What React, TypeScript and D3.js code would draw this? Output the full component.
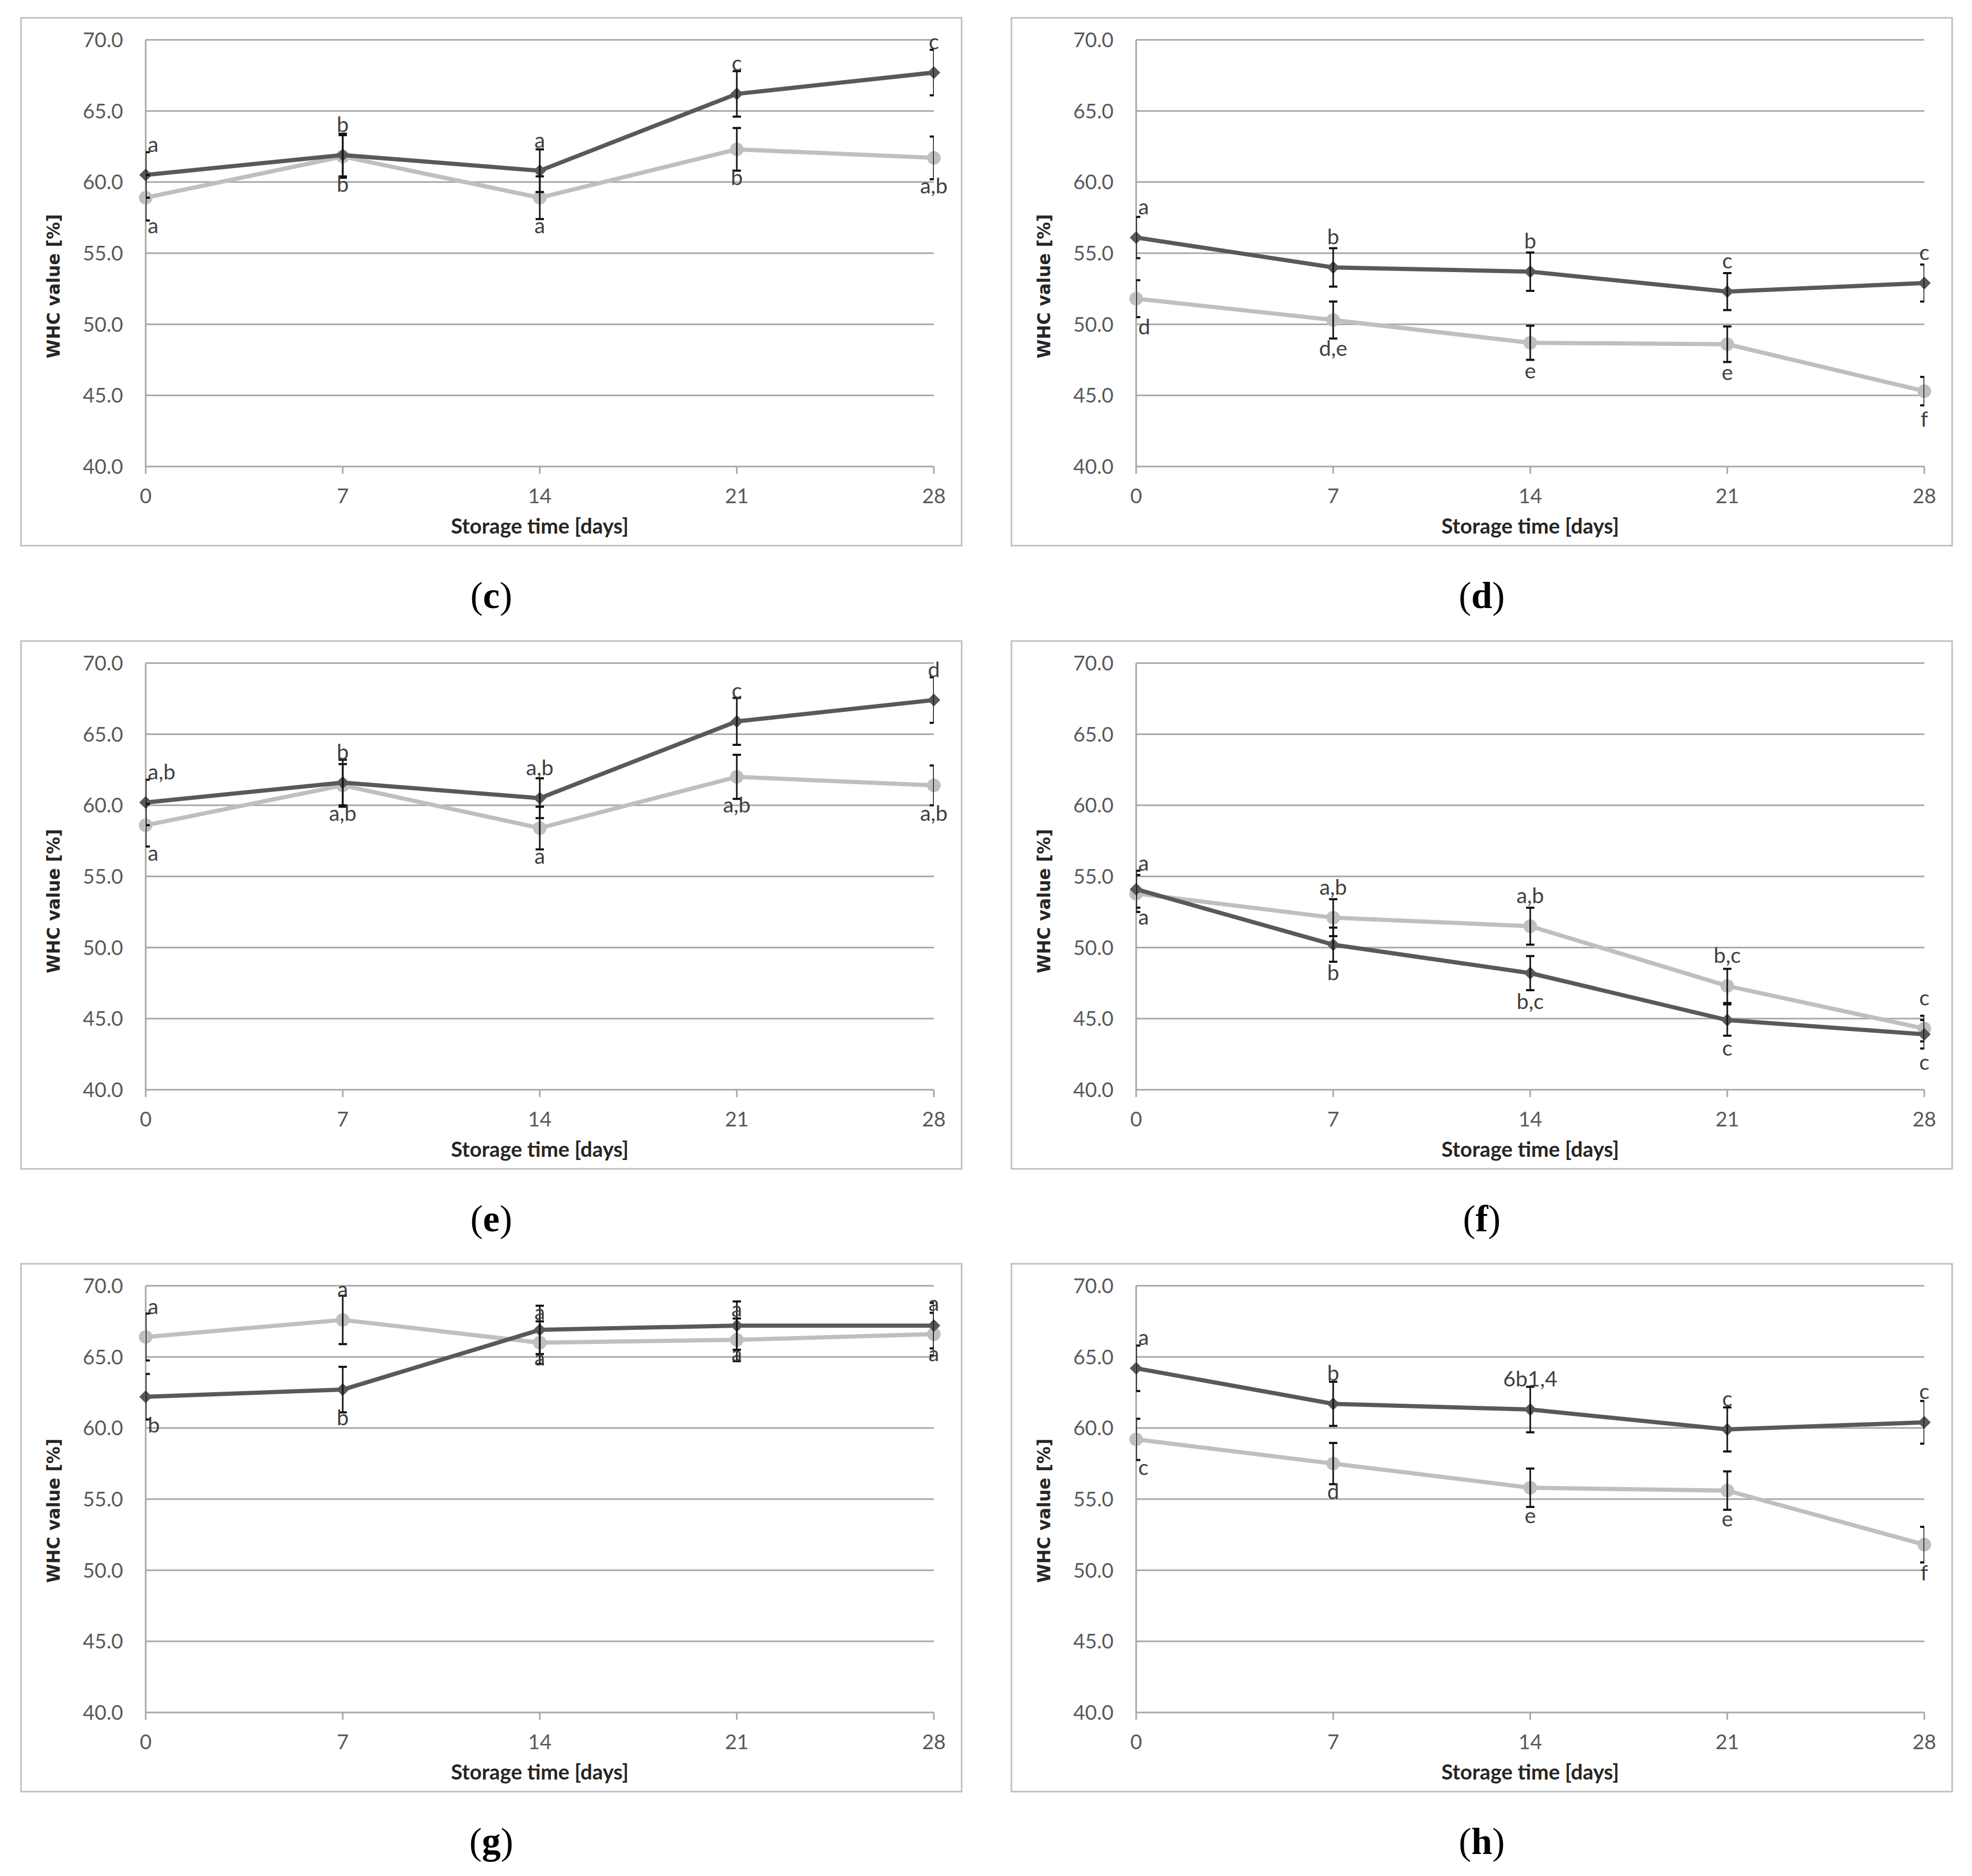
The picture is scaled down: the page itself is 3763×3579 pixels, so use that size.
import React from "react";
import * as d3 from "d3";

// ---- data ----
const days = [0, 7, 14, 21, 28];
const yTicks = [40, 45, 50, 55, 60, 65, 70];
const panelLetters = ["c", "d", "e", "f", "g", "h"];
const xTitle = "Storage time [days]";
const yTitle = "WHC value [%]";

const cDark = [60.5, 61.9, 60.8, 66.2, 67.7];
const cDarkErr = [1.6, 1.5, 1.5, 1.6, 1.6];
const cLight = [58.9, 61.8, 58.9, 62.3, 61.7];
const cLightErr = [1.6, 1.5, 1.5, 1.5, 1.5];
const cDarkLabels = ["a", "b", "a", "c", "c"];
const cLightLabels = ["a", "b", "a", "b", "a,b"];

const dDark = [56.1, 54.0, 53.7, 52.3, 52.9];
const dDarkErr = [1.45, 1.35, 1.35, 1.3, 1.3];
const dLight = [51.8, 50.3, 48.7, 48.6, 45.3];
const dLightErr = [1.3, 1.3, 1.2, 1.25, 1.0];
const dDarkLabels = ["a", "b", "b", "c", "c"];
const dLightLabels = ["d", "d,e", "e", "e", "f"];

const eDark = [60.2, 61.6, 60.5, 65.9, 67.4];
const eDarkErr = [1.6, 1.6, 1.4, 1.65, 1.6];
const eLight = [58.6, 61.4, 58.4, 62.0, 61.4];
const eLightErr = [1.5, 1.5, 1.5, 1.55, 1.4];
const eDarkLabels = ["a,b", "b", "a,b", "c", "d"];
const eLightLabels = ["a", "a,b", "a", "a,b", "a,b"];

const fDark = [54.1, 50.2, 48.2, 44.9, 43.9];
const fDarkErr = [1.3, 1.2, 1.2, 1.1, 1.0];
const fLight = [53.8, 52.1, 51.5, 47.3, 44.3];
const fLightErr = [1.3, 1.3, 1.3, 1.2, 0.9];
const fDarkLabels = ["a", "b", "b,c", "c", "c"];
const fLightLabels = ["a", "a,b", "a,b", "b,c", "c"];

const gDark = [62.2, 62.7, 66.9, 67.2, 67.2];
const gDarkErr = [1.6, 1.6, 1.7, 1.7, 1.6];
const gLight = [66.4, 67.6, 66.0, 66.2, 66.6];
const gLightErr = [1.65, 1.7, 1.5, 1.5, 1.5];
const gDarkLabels = ["b", "b", "a", "a", "a"];
const gLightLabels = ["a", "a", "a", "a", "a"];

const hDark = [64.2, 61.7, 61.3, 59.9, 60.4];
const hDarkErr = [1.6, 1.55, 1.6, 1.55, 1.5];
const hLight = [59.2, 57.5, 55.8, 55.6, 51.8];
const hLightErr = [1.45, 1.45, 1.35, 1.35, 1.25];
const hDarkLabels = ["a", "b", "6b1,4", "c", "c"];
const hLightLabels = ["c", "d", "e", "e", "f"];

// which series has its letters above the points (per panel)
const lightLabelsAbove = [false, false, false, true, true, false];

const darkSeries = [cDark, dDark, eDark, fDark, gDark, hDark];
const darkErrs = [cDarkErr, dDarkErr, eDarkErr, fDarkErr, gDarkErr, hDarkErr];
const lightSeries = [cLight, dLight, eLight, fLight, gLight, hLight];
const lightErrs = [cLightErr, dLightErr, eLightErr, fLightErr, gLightErr, hLightErr];
const darkLabelSets = [cDarkLabels, dDarkLabels, eDarkLabels, fDarkLabels, gDarkLabels, hDarkLabels];
const lightLabelSets = [cLightLabels, dLightLabels, eLightLabels, fLightLabels, gLightLabels, hLightLabels];

// ---- style ----
const DARK = "#595959";
const LIGHT = "#bfbfbf";
const GRID = "#a6a6a6";
const SANS = "Lato, 'Open Sans', sans-serif";
const colX = [40, 1930];
const rowY = [34, 1223, 2411];
const yTitleMid = [512, 496, 471];

type PanelProps = {
  idx: number;
};

function Panel({ idx }: PanelProps) {
  const col = idx % 2;
  const row = Math.floor(idx / 2);
  const ox = colX[col];
  const oy = rowY[row];
  const bw = 1795;
  const bh = 1007;
  const dark = darkSeries[idx];
  const light = lightSeries[idx];
  const dErr = darkErrs[idx];
  const lErr = lightErrs[idx];
  const lightAbove = lightLabelsAbove[idx];

  const x = d3.scaleLinear().domain([0, 28]).range([ox + 238, ox + 1742]);
  const y = d3.scaleLinear().domain([40, 70]).range([oy + 856, oy + 42]);
  const line = d3
    .line<number>()
    .x((_, i) => x(days[i]))
    .y((v) => y(v));
  const circle = d3.symbol(d3.symbolCircle, Math.PI * 13 * 13)();
  const diamond = d3.symbol(d3.symbolSquare, 300)();
  const clipId = `clip-${idx}`;
  const fmt = d3.format(".1f");

  const errBars = (vals: number[], errs: number[], key: string) =>
    vals.map((v, i) => {
      const cx = x(days[i]);
      const t = y(v + errs[i]);
      const b = y(v - errs[i]);
      return (
        <g key={`${key}${i}`}>
          <line x1={cx} x2={cx} y1={t} y2={b} stroke="#111" strokeWidth={3} />
          <line x1={cx - 8} x2={cx + 8} y1={t} y2={t} stroke="#111" strokeWidth={4} />
          <line x1={cx - 8} x2={cx + 8} y1={b} y2={b} stroke="#111" strokeWidth={4} />
        </g>
      );
    });

  const labels = (vals: number[], texts: string[], above: boolean, key: string) =>
    vals.map((v, i) => {
      const first = i === 0;
      return (
        <text
          key={`${key}${i}`}
          x={first ? x(days[i]) + 4 : x(days[i])}
          y={above ? y(v) - 44 : y(v) + 68}
          textAnchor={first ? "start" : "middle"}
          fontFamily={SANS}
          fontSize={41}
          fill="#404040"
        >
          {texts[i]}
        </text>
      );
    });

  return (
    <g>
      <defs>
        <clipPath id={clipId}>
          <rect x={x(0)} y={oy} width={x(28) - x(0)} height={bh} />
        </clipPath>
      </defs>
      <rect x={ox} y={oy} width={bw} height={bh} fill="#fff" stroke={LIGHT} strokeWidth={3} />
      {yTicks.map((t) => (
        <g key={`g${t}`}>
          <line x1={x(0)} x2={x(28)} y1={y(t)} y2={y(t)} stroke={GRID} strokeWidth={3} />
          <text
            x={ox + 195}
            y={y(t) + 14}
            textAnchor="end"
            fontFamily={SANS}
            fontSize={39}
            fill="#595959"
          >
            {fmt(t)}
          </text>
        </g>
      ))}
      <line x1={x(0)} x2={x(0)} y1={y(70)} y2={y(40)} stroke={GRID} strokeWidth={3} />
      {days.map((d) => (
        <g key={`x${d}`}>
          <line x1={x(d)} x2={x(d)} y1={y(40)} y2={y(40) + 14} stroke={GRID} strokeWidth={3} />
          <text
            x={x(d)}
            y={oy + 926}
            textAnchor="middle"
            fontFamily={SANS}
            fontSize={39}
            fill="#595959"
          >
            {d}
          </text>
        </g>
      ))}
      <text
        x={(x(0) + x(28)) / 2}
        y={oy + 984}
        textAnchor="middle"
        fontFamily={SANS}
        fontWeight="bold"
        fontSize={40}
        fill="#262626"
      >
        {xTitle}
      </text>
      <text
        transform={`translate(${ox + 74},${oy + yTitleMid[row]}) rotate(-90)`}
        textAnchor="middle"
        fontFamily="'DejaVu Sans', Verdana, sans-serif"
        fontWeight="bold"
        fontSize={33}
        fill="#262626"
      >
        {yTitle}
      </text>

      <path d={line(light) || ""} fill="none" stroke={LIGHT} strokeWidth={8} strokeLinejoin="round" />
      {light.map((v, i) => (
        <path key={`lm${i}`} d={circle || ""} transform={`translate(${x(days[i])},${y(v)})`} fill={LIGHT} />
      ))}
      <path d={line(dark) || ""} fill="none" stroke={DARK} strokeWidth={8} strokeLinejoin="round" />
      {dark.map((v, i) => (
        <path
          key={`dm${i}`}
          d={diamond || ""}
          transform={`translate(${x(days[i])},${y(v)}) rotate(45)`}
          fill={DARK}
        />
      ))}
      <g clipPath={`url(#${clipId})`}>
        {errBars(light, lErr, "le")}
        {errBars(dark, dErr, "de")}
      </g>
      {labels(dark, darkLabelSets[idx], !lightAbove, "dl")}
      {labels(light, lightLabelSets[idx], lightAbove, "ll")}

      <text
        x={ox + bw / 2}
        y={oy + 1126}
        textAnchor="middle"
        fontFamily="'Liberation Serif', 'Times New Roman', serif"
        fontSize={72}
        fill="#000"
      >
        (<tspan fontWeight="bold">{panelLetters[idx]}</tspan>)
      </text>
    </g>
  );
}

export default function App() {
  return (
    <svg
      width={3763}
      height={3579}
      viewBox="0 0 3763 3579"
      style={{ position: "absolute", left: 0, top: 0, background: "#fff" }}
    >
      <rect x={0} y={0} width={3763} height={3579} fill="#fff" />
      {panelLetters.map((_, i) => (
        <Panel key={i} idx={i} />
      ))}
    </svg>
  );
}
